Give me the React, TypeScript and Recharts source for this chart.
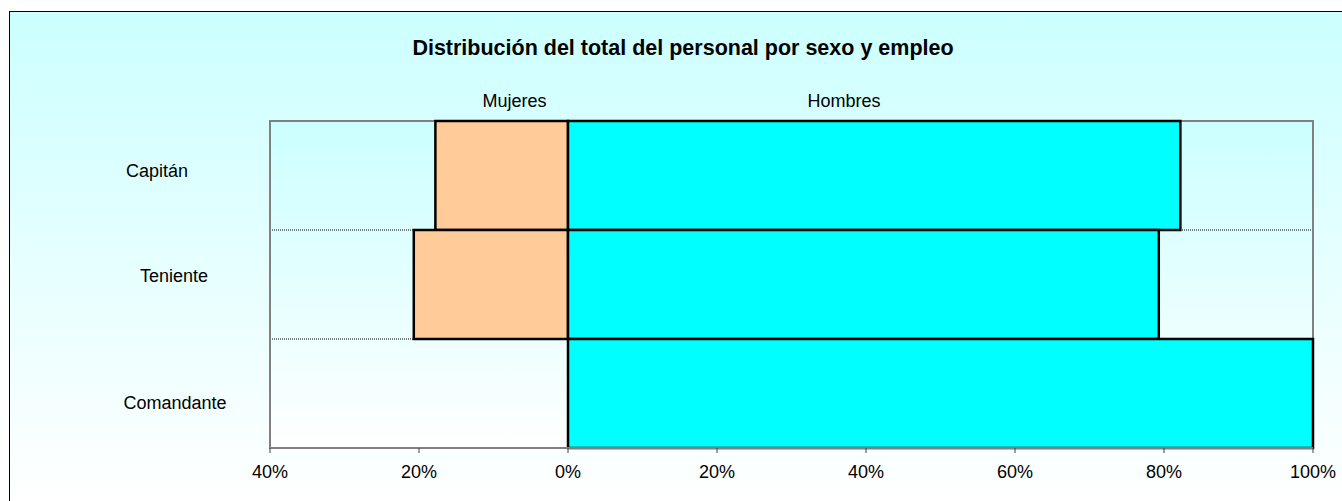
import React from "react";
import {
  BarChart,
  Bar,
  XAxis,
  YAxis,
  CartesianGrid,
  ReferenceArea,
} from "recharts";

const categories = ["Capitán", "Teniente", "Comandante"];
const mujeres = [-17.8, -20.7, 0];
const hombres = [82.2, 79.3, 100];
const xTicks = [-40, -20, 0, 20, 40, 60, 80, 100];
const seriesNames = ["Mujeres", "Hombres"];
const title = "Distribución del total del personal por sexo y empleo";

const data = categories.map((name, i) => ({
  name,
  mujeres: mujeres[i],
  hombres: hombres[i],
}));

const FONT = "'Liberation Sans', Arial, sans-serif";
const W = 1332;
const H = 489;

// label placement offsets (chart coords) per category row
const labelX = [147, 164, 165];
const labelDy = [-4.5, -8.5, 9.5];

const CatTick = (props: any) => {
  const { y, index } = props;
  return (
    <text
      x={labelX[index]}
      y={y + labelDy[index]}
      dy="0.36em"
      textAnchor="middle"
      fontFamily={FONT}
      fontSize={18}
      fill="#000"
    >
      {props.payload.value}
    </text>
  );
};

export default function App() {
  return (
    <div
      style={{
        position: "absolute",
        left: 9,
        top: 11,
        width: W,
        height: H,
        borderLeft: "1px solid #000",
        borderTop: "1px solid #000",
        background: "linear-gradient(#ccffff, #ffffff)",
        overflow: "hidden",
        fontFamily: FONT,
      }}
    >
      <div
        style={{
          position: "absolute",
          left: 273,
          width: 800,
          top: 24,
          textAlign: "center",
          fontWeight: "bold",
          fontSize: 21.5,
          lineHeight: "24px",
          color: "#000",
        }}
      >
        {title}
      </div>
      <div
        style={{
          position: "absolute",
          left: 504.5 - 100,
          width: 200,
          top: 79,
          textAlign: "center",
          fontSize: 18,
          lineHeight: "20px",
          color: "#000",
        }}
      >
        {seriesNames[0]}
      </div>
      <div
        style={{
          position: "absolute",
          left: 834 - 100,
          width: 200,
          top: 79,
          textAlign: "center",
          fontSize: 18,
          lineHeight: "20px",
          color: "#000",
        }}
      >
        {seriesNames[1]}
      </div>
      <BarChart
        width={W}
        height={H}
        data={data}
        layout="vertical"
        stackOffset="sign"
        barCategoryGap={0}
        margin={{ top: 109, right: 29, bottom: 23, left: 10 }}
      >
        <defs>
          <linearGradient id="plotGrad" x1="0" y1="0" x2="0" y2="1">
            <stop offset="0%" stopColor="#ccffff" />
            <stop offset="100%" stopColor="#ffffff" />
          </linearGradient>
        </defs>
        <CartesianGrid
          vertical={false}
          fill="url(#plotGrad)"
          stroke="#000"
          strokeDasharray="1 1"
          strokeWidth={1}
          horizontalCoordinatesGenerator={({ offset }: any) => {
            const n = categories.length;
            const out: number[] = [];
            for (let k = 1; k < n; k++) out.push(offset.top + (offset.height * k) / n);
            return out;
          }}
        />
        <XAxis
          type="number"
          domain={[-40, 100]}
          ticks={xTicks}
          interval={0}
          height={30}
          tickFormatter={(v: number) => `${Math.abs(v)}%`}
          tick={{ fontSize: 18, fontFamily: FONT, fill: "#000" }}
          tickSize={5}
          tickMargin={12}
          stroke="#808080"
          axisLine={{ stroke: "#808080", strokeWidth: 2 }}
          tickLine={{ stroke: "#404040", strokeWidth: 1 }}
        />
        <YAxis
          type="category"
          dataKey="name"
          width={250}
          axisLine={false}
          tickLine={false}
          tick={<CatTick />}
        />
        <ReferenceArea
          x1={-40}
          x2={100}
          y1={categories[0]}
          y2={categories[categories.length - 1]}
          fill="none"
          stroke="#808080"
          strokeWidth={2}
          ifOverflow="visible"
        />
        <Bar
          dataKey="mujeres"
          stackId="a"
          fill="#ffcc99"
          stroke="#000"
          strokeWidth={2.5}
          isAnimationActive={false}
        />
        <Bar
          dataKey="hombres"
          stackId="a"
          fill="#00ffff"
          stroke="#000"
          strokeWidth={2.5}
          isAnimationActive={false}
        />
      </BarChart>
    </div>
  );
}
